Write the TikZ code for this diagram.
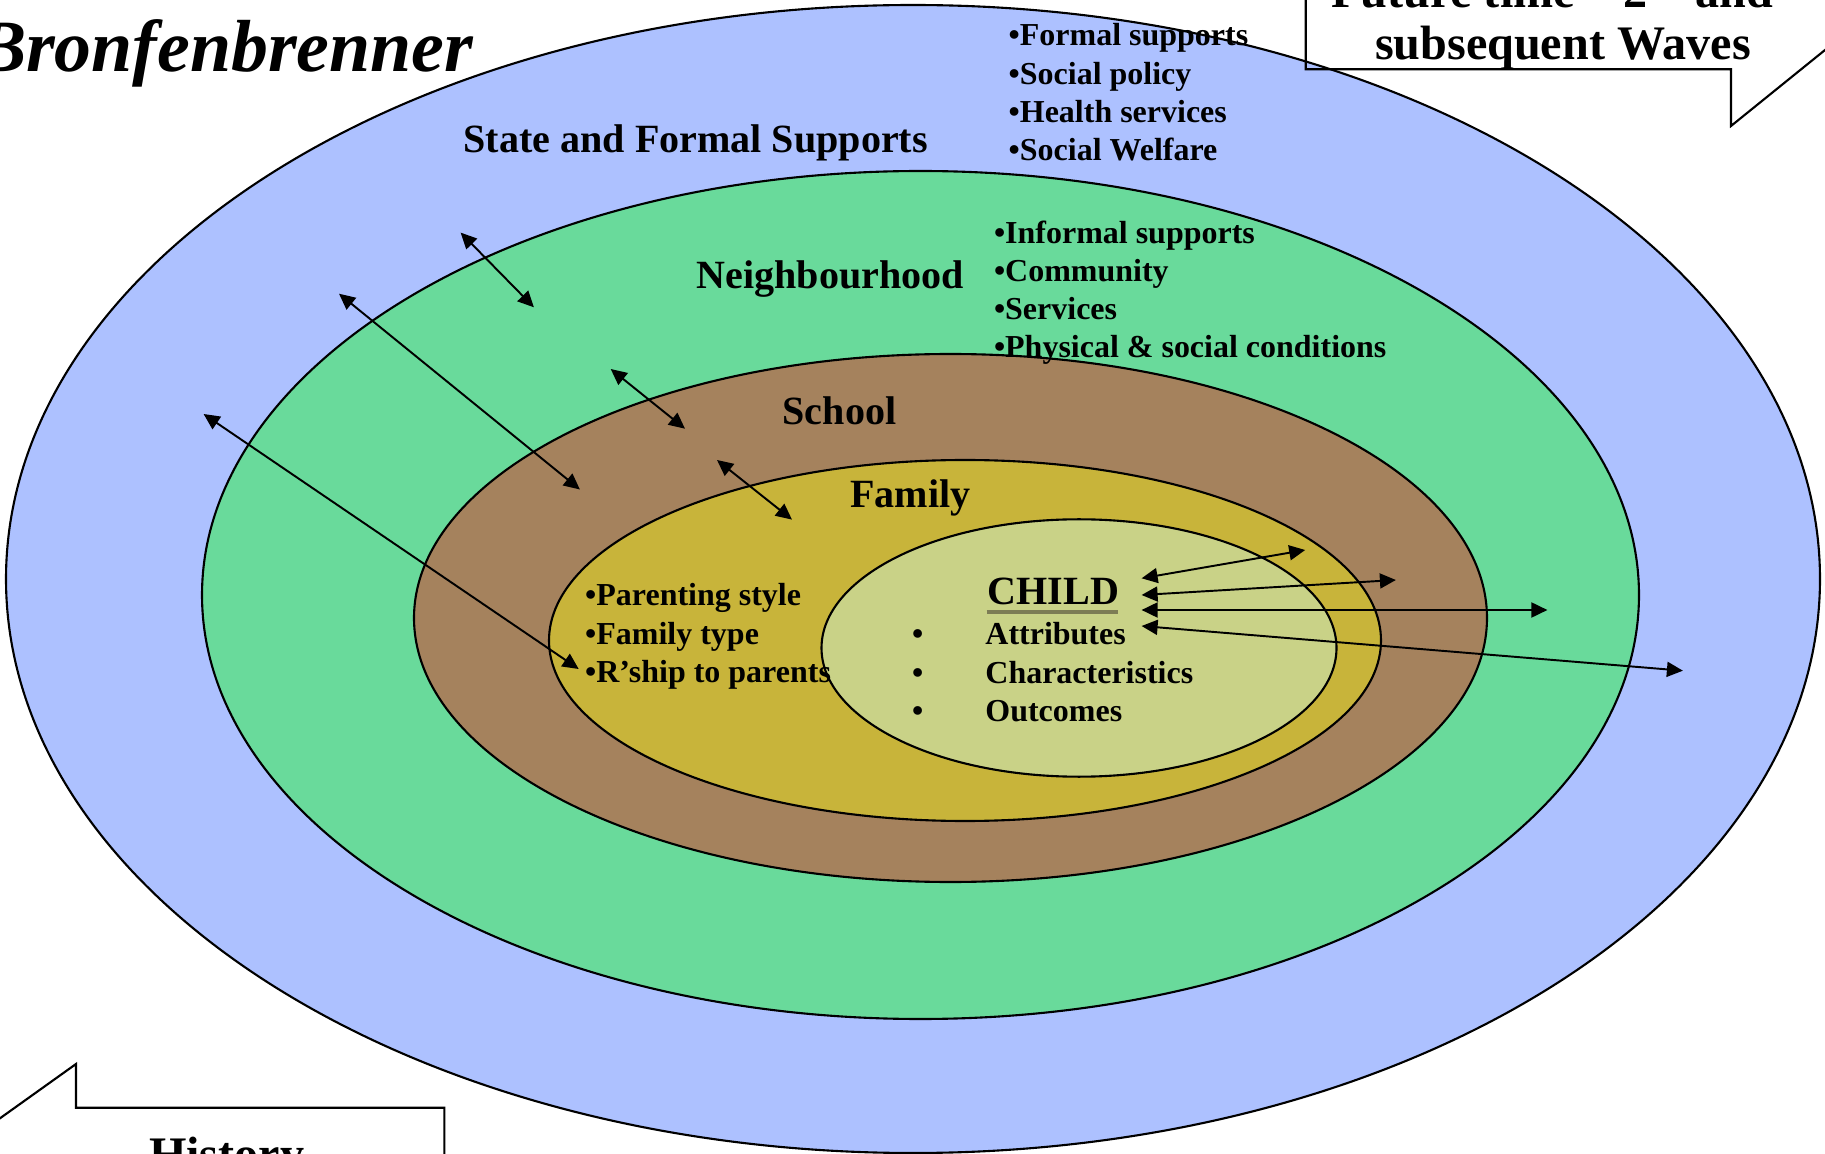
\documentclass[tikz,border=0pt]{standalone}
\usepackage{fontspec}
\setmainfont{Liberation Serif}
\usepackage{tikz}
\usetikzlibrary{arrows.meta}

\definecolor{statebg}{RGB}{173,193,255}
\definecolor{neighbg}{RGB}{105,218,155}
\definecolor{schoolbg}{RGB}{165,130,93}
\definecolor{familybg}{RGB}{200,180,58}
\definecolor{childbg}{RGB}{201,210,135}
\definecolor{childline}{RGB}{125,125,85}

\begin{document}
\begin{tikzpicture}[x=0.1mm,y=-0.1mm,
    ring/.style={draw=black,line width=0.6pt},
    lbl/.style={font=\fontsize{11.4}{13}\selectfont\bfseries,inner sep=0pt,anchor=base west},
    item/.style={font=\fontsize{9.1}{10.9}\selectfont\bfseries,inner sep=0pt,anchor=base west},
    wave/.style={font=\fontsize{13.7}{15}\selectfont\bfseries,inner sep=0pt,anchor=base},
    link/.style={{Triangle[length=1.6mm,width=1.5mm]}-{Triangle[length=1.6mm,width=1.5mm]},line width=0.55pt}]
  \useasboundingbox (0,0) rectangle (1825,1154);
  \clip (0,0) rectangle (1825,1154);

  % the rings, outside in
  \draw[ring,fill=statebg] (913,579) ellipse [x radius=90.7mm,y radius=57.4mm];
  \draw[ring,fill=neighbg] (920.5,595) ellipse [x radius=71.85mm,y radius=42.4mm];
  \draw[ring,fill=schoolbg] (950.5,618) ellipse [x radius=53.65mm,y radius=26.4mm];
  \draw[ring,fill=familybg] (965,640.5) ellipse [x radius=41.6mm,y radius=18.05mm];
  \draw[ring,fill=childbg] (1079,648) ellipse [x radius=25.75mm,y radius=12.87mm];

  % callouts
  \draw[line width=0.6pt] (1305.7,-20) -- (1305.7,69.3) -- (1731,69.3) -- (1731,126) -- (1850,29.8);
  \draw[line width=0.6pt] (-30,1139.7) -- (76,1064) -- (76,1107.7) -- (444.3,1107.7) -- (444.3,1180);
  \node[wave] (future) at (1552,8) {Future time -- 2 -- and};
  \node[wave] (waves) at (1563,60) {subsequent Waves};
  \node[wave] (history) at (226.7,1170) {History};

  \node[font=\fontsize{21}{25}\selectfont\bfseries\itshape,inner sep=0pt,anchor=base east] (title) at (474,71.8) {Bronfenbrenner};

  % ring labels
  \node[lbl] (state) at (463,152.6) {State and Formal Supports};
  \node[lbl] (neigh) at (696,289) {Neighbourhood};
  \node[lbl] (school) at (782,425) {School};
  \node[lbl] (family) at (849.7,507.5) {Family};
  \node[lbl] (child) at (987,605) {CHILD};
  \draw[childline,line width=0.95pt] (986.6,612) -- (1117.5,612);

  % lists
  \foreach \t [count=\i] in {Formal supports,Social policy,Health services,Social Welfare}
    \node[item] (st\i) at (1008,{46+38.3*(\i-1)}) {•\t};
  \foreach \t [count=\i] in {Informal supports,Community,Services,Physical \& social conditions}
    \node[item] (nb\i) at (993.3,{243.3+38.1*(\i-1)}) {•\t};
  \foreach \t [count=\i] in {Parenting style,Family type,R’ship to parents}
    \node[item] (fm\i) at (584.5,{605.7+38.6*(\i-1)}) {•\t};
  \foreach \t [count=\i] in {Attributes,Characteristics,Outcomes} {
    \node[item,anchor=base] (cb\i) at (917.7,{645+38.3*(\i-1)}) {•};
    \node[item] (ct\i) at (984.7,{645+38.3*(\i-1)}) {\t};
  }

  % arrows between the rings
  \foreach \i/\ax/\ay/\bx/\by in {1/460.6/232.6/533.9/307.3, 2/339/293.7/579.9/489.5,
      3/610.7/369/685/428.7, 4/717/460/792/519.6, 5/203.6/414/578.7/669} {
    \coordinate (ra\i) at (\ax,\ay);
    \coordinate (rb\i) at (\bx,\by);
    \draw[link] (ra\i) -- (rb\i);
  }
  % arrows from the child
  \foreach \i/\ly/\rx/\ry in {1/578.3/1305.2/550, 2/595/1395.9/580, 3/610/1547.4/610, 4/626/1682.9/670.7} {
    \coordinate (cl\i) at (1141.6,\ly);
    \coordinate (cr\i) at (\rx,\ry);
    \draw[link] (cl\i) -- (cr\i);
  }
\end{tikzpicture}
\end{document}
